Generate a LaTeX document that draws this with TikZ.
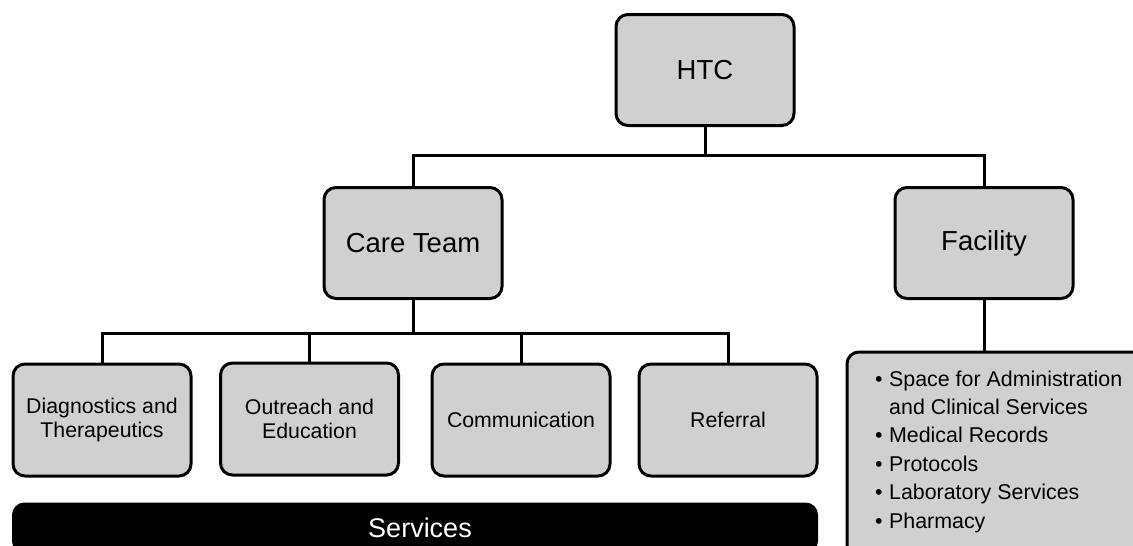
\documentclass[tikz,border=0pt]{standalone}
\usepackage{fontspec}
\setmainfont{Liberation Sans}
\usetikzlibrary{calc}
\definecolor{boxgray}{RGB}{208,208,208}
\begin{document}
\begin{tikzpicture}[x=1pt,y=-1pt,
  box/.style={draw=black, fill=boxgray, rounded corners=12pt, line width=3pt, inner sep=2pt, align=center},
  bigbox/.style={box, minimum width=178pt, minimum height=111pt, font=\fontsize{27.5}{31}\selectfont},
  smallbox/.style={box, minimum width=178pt, minimum height=112pt, font=\fontsize{21.3}{24.5}\selectfont},
  conn/.style={draw=black, line width=3pt},
  item/.style={anchor=base west, inner sep=0pt, font=\fontsize{21.4}{25}\selectfont}]
\clip (0,0) rectangle (1133,546);
\fill[white] (0,0) rectangle (1133,546);
% top level
\node[bigbox] (htc) at (705,70) {HTC};
\node[bigbox] (care) at (413,243) {Care Team};
\node[bigbox] (fac) at (984,243) {Facility};
% services of the care team
\node[smallbox] (diag) at (102,420) {Diagnostics and\\Therapeutics};
\node[smallbox] (outr) at (309.5,419) {Outreach and\\Education};
\node[smallbox] (comm) at (521,420) {Communication};
\node[smallbox] (ref) at (728,420) {Referral};
% services bar
\node[draw=black, fill=black, rounded corners=12pt, line width=1pt, minimum width=805pt, minimum height=50pt, inner sep=0pt,
  text=white, font=\fontsize{27}{31}\selectfont] (serv) at (415,528) {\hspace{10pt}Services};
% facility list box
\node[box, minimum width=303pt, minimum height=210pt] (list) at (998.5,457) {};
\node[item] (l1) at (875,386) {•\hspace{0.3em}Space for Administration};
\node[item] (l2) at (889,414) {and Clinical Services};
\node[item] (l3) at (875,442) {•\hspace{0.3em}Medical Records};
\node[item] (l4) at (875,471) {•\hspace{0.3em}Protocols};
\node[item] (l5) at (875,499) {•\hspace{0.3em}Laboratory Services};
\node[item] (l6) at (875,528) {•\hspace{0.3em}Pharmacy};
% connectors
\coordinate (j1) at ($(htc.south)+(0,28)$);
\draw[conn] (htc.south) -- (j1) -| (care.north);
\draw[conn] (j1) -| (fac.north);
\coordinate (j2) at ($(care.south)+(0,33)$);
\draw[conn] (care.south) -- (j2);
\draw[conn] (j2) -| (diag.north);
\draw[conn] (j2) -| (outr.north);
\draw[conn] (j2) -| (comm.north);
\draw[conn] (j2) -| (ref.north);
\draw[conn] (fac.south) -- (fac.south |- list.north);
\end{tikzpicture}
\end{document}
